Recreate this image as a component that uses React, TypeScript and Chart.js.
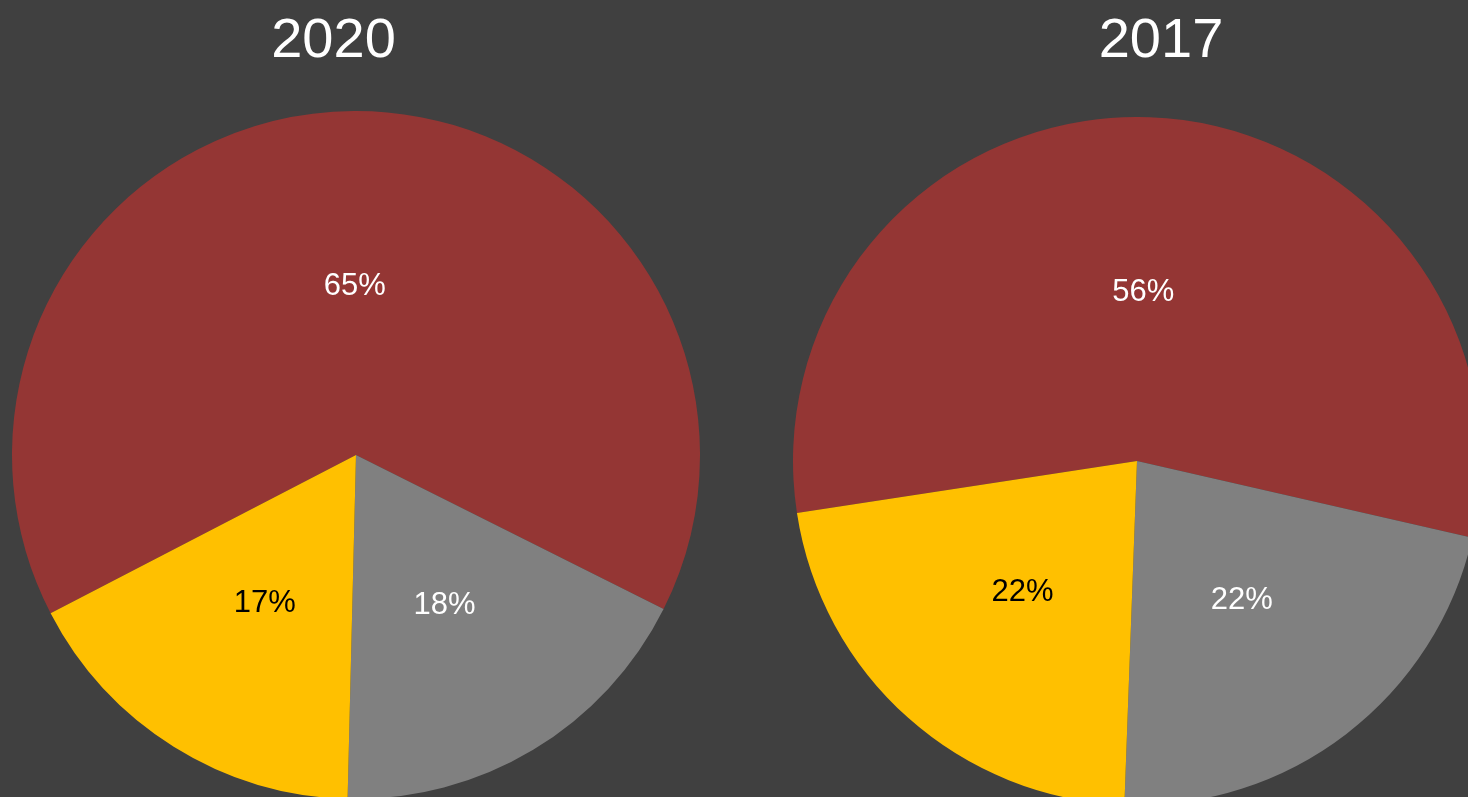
import React, { useEffect, useRef } from "react";
import { Chart, registerables } from "chart.js";

Chart.register(...registerables);

const categories = ["A", "B", "C"];
const values2020 = [65, 18, 17];
const values2017 = [56, 22, 22];
const labels2020 = ["65%", "18%", "17%"];
const labels2017 = ["56%", "22%", "22%"];
const sliceColors = ["#943634", "#808080", "#FFC000"];
const labelColors = ["#FFFFFF", "#FFFFFF", "#000000"];

const pieLabelPlugin = {
  id: "pieLabels",
  afterDatasetsDraw(chart: any) {
    const ctx = chart.ctx;
    const texts: string[] = chart.options.plugins.pieLabels.texts;
    const meta = chart.getDatasetMeta(0);
    ctx.save();
    ctx.font = "31px 'Liberation Sans', Arial, sans-serif";
    ctx.textAlign = "center";
    ctx.textBaseline = "middle";
    meta.data.forEach((arc: any, i: number) => {
      const p = arc.tooltipPosition();
      ctx.fillStyle = labelColors[i];
      ctx.fillText(texts[i], p.x, p.y + 3);
    });
    ctx.restore();
  },
};

function PieChart({
  values,
  texts,
  rotation,
  left,
  top,
}: {
  values: number[];
  texts: string[];
  rotation: number;
  left: number;
  top: number;
}) {
  const ref = useRef<HTMLCanvasElement | null>(null);
  useEffect(() => {
    if (!ref.current) return;
    const chart = new Chart(ref.current, {
      type: "pie",
      data: {
        labels: categories,
        datasets: [
          {
            data: values,
            backgroundColor: sliceColors,
            borderWidth: 0,
            hoverBorderWidth: 0,
            hoverOffset: 0,
          },
        ],
      },
      options: {
        responsive: false,
        animation: false,
        rotation,
        layout: { padding: 0 },
        events: [],
        plugins: {
          legend: { display: false },
          tooltip: { enabled: false },
          title: { display: false },
          // @ts-ignore
          pieLabels: { texts },
        },
      } as any,
      plugins: [pieLabelPlugin],
    });
    return () => chart.destroy();
  }, []);
  return (
    <canvas
      ref={ref}
      width={688}
      height={688}
      style={{ position: "absolute", left, top, width: 688, height: 688 }}
    />
  );
}

const titleStyle: React.CSSProperties = {
  position: "absolute",
  top: 10,
  width: 300,
  textAlign: "center",
  color: "#FFFFFF",
  fontFamily: "'Liberation Sans', Arial, sans-serif",
  fontSize: 56,
  lineHeight: "56px",
};

export default function App() {
  return (
    <div
      style={{
        position: "fixed",
        left: 0,
        top: 0,
        width: 1468,
        height: 797,
        background: "#404040",
        overflow: "hidden",
      }}
    >
      <div style={{ ...titleStyle, left: 333.5 - 150 }}>2020</div>
      <div style={{ ...titleStyle, left: 1161 - 150 }}>2017</div>
      <PieChart values={values2020} texts={labels2020} rotation={242.6} left={12} top={111} />
      <PieChart values={values2017} texts={labels2017} rotation={261.3} left={793} top={117} />
    </div>
  );
}
